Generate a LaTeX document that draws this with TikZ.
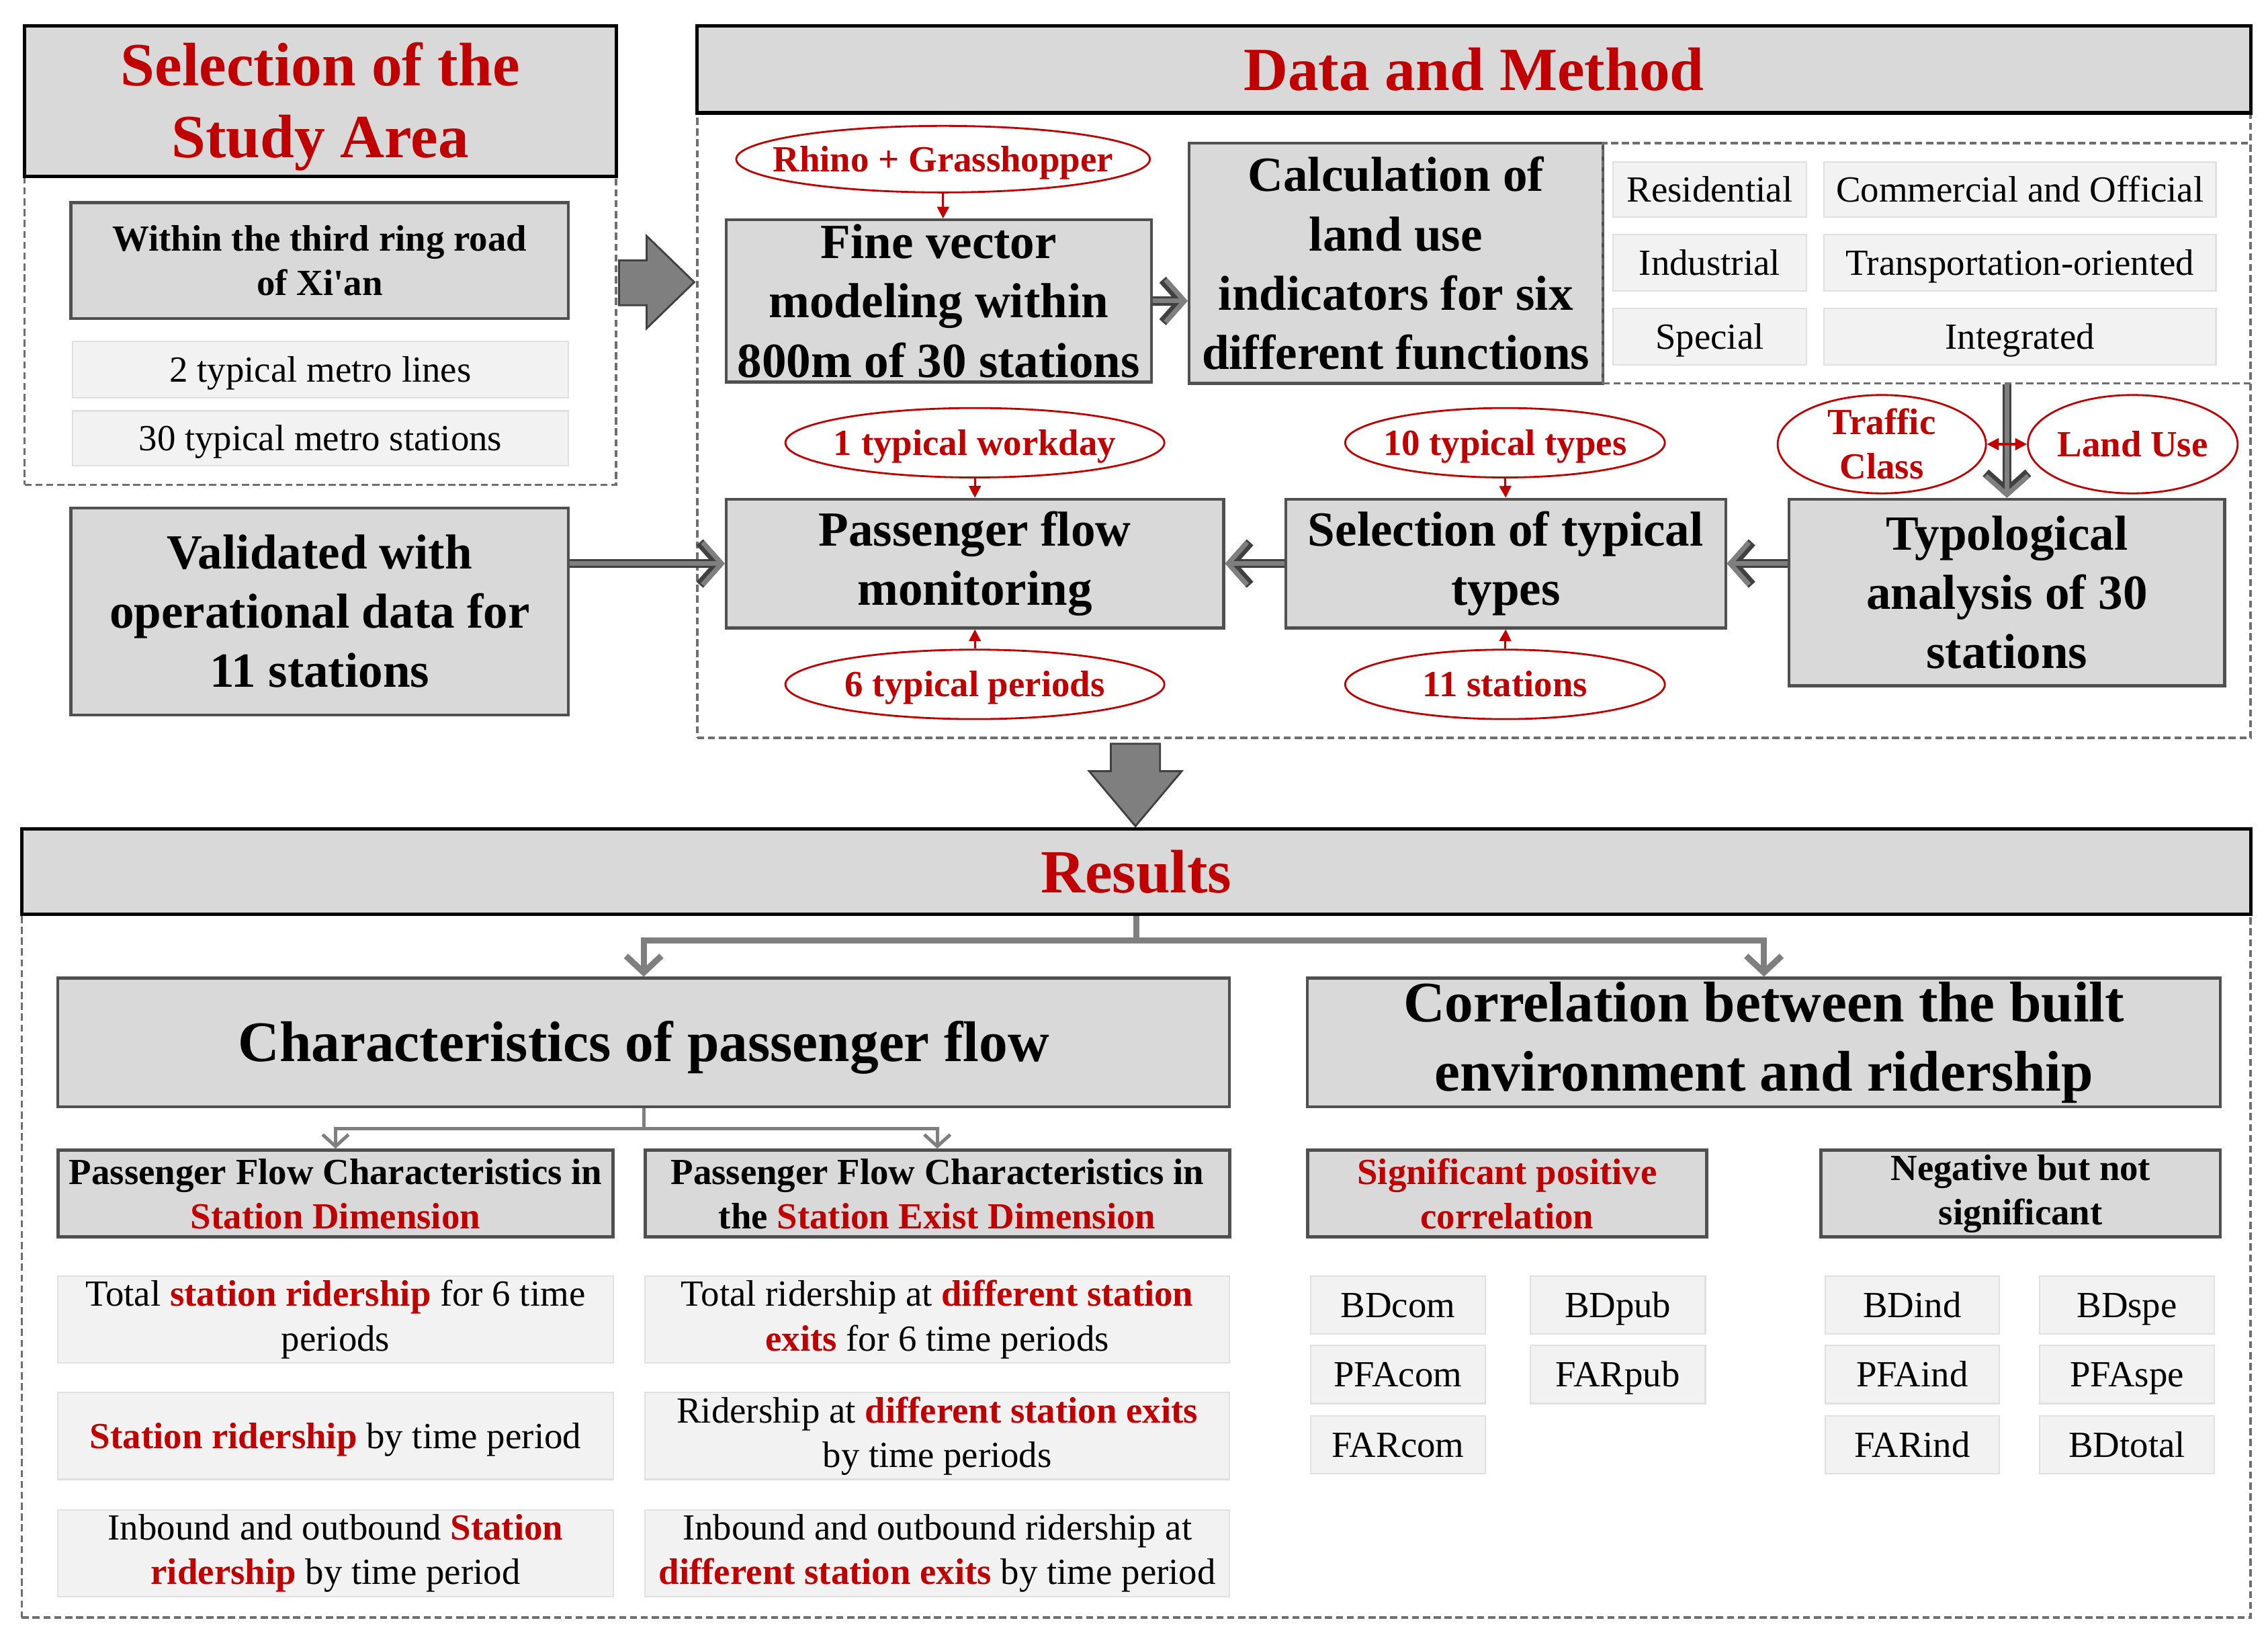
\documentclass[tikz,border=0pt]{standalone}
\usepackage{fontspec}
\setmainfont{Liberation Serif}[Ligatures=TeXOff]
\usetikzlibrary{arrows.meta,shapes.geometric}

\definecolor{redt}{RGB}{192,0,0}
\definecolor{boxgray}{RGB}{217,217,217}
\definecolor{lightbox}{RGB}{242,242,242}
\definecolor{liteline}{RGB}{224,224,224}
\definecolor{boxline}{RGB}{80,80,80}
\definecolor{darkline}{RGB}{64,64,64}
\definecolor{arrowgray}{RGB}{127,127,127}
\definecolor{framegray}{RGB}{110,110,110}

\newcommand\fTitle{\fontsize{26pt}{30.6pt}\selectfont\bfseries}
\newcommand\fMain{\fontsize{20.8pt}{25.1pt}\selectfont\bfseries}
\newcommand\fSub{\fontsize{24.3pt}{29.4pt}\selectfont\bfseries}
\newcommand\fSmall{\fontsize{15.6pt}{18.8pt}\selectfont}
\newcommand\wstrut{\rule[-0.216em]{0pt}{1.107em}}
\newcommand\redb[1]{{\color{redt}\bfseries #1}}
\newcommand\zw[1]{\makebox[0pt]{\wstrut#1}}
\newcommand\zz[2]{\makebox[0pt]{\smash{\raisebox{#1}{\begin{tabular}{@{}c@{}}#2\end{tabular}}}}}
\newcommand\hollowar[2]{%
  \draw[draw=darkline, line width=3.8pt, -{Straight Barb[length=8pt,width=18pt]}] #1 -- #2;
  \draw[draw=arrowgray, line width=2pt, -{Straight Barb[length=8pt,width=18pt]}] #1 -- #2;}

\tikzset{
  sz/.style 2 args={minimum width=#1*0.02153cm, minimum height=#2*0.02153cm},
  struts/.style={execute at begin node=\wstrut, execute at end node=\wstrut},
  mainbox/.style={draw=boxline, line width=1.2pt, fill=boxgray, align=center, inner sep=0pt, font=\fMain},
  subbox/.style={mainbox, line width=1.4pt, font=\fSmall\bfseries},
  topbox/.style={mainbox, font=\fSub, struts},
  litebox/.style={draw=liteline, line width=0.6pt, fill=lightbox, align=center, inner sep=0pt, font=\fSmall, struts},
  redell/.style={ellipse, draw=redt, line width=0.8pt, fill=white, text=redt, font=\fSmall\bfseries, inner sep=0pt},
  header/.style={draw=black, line width=1.5pt, fill=boxgray, text=redt, font=\fTitle, align=center, inner sep=0pt, struts},
  dframe/.style={draw=framegray, line width=1pt, dash pattern=on 3pt off 1.6pt, inner sep=0pt},
  redarrow/.style={draw=redt, line width=0.9pt, -{Triangle[length=5pt,width=5pt]}},
  redboth/.style={draw=redt, line width=0.9pt, {Triangle[length=5pt,width=5pt]}-{Triangle[length=5pt,width=5pt]}},
  treeln/.style={draw=arrowgray, line width=2.6pt},
  treetip/.style={treeln, -{Straight Barb[length=7pt,width=15pt]}},
  thintip/.style={draw=arrowgray, line width=1.4pt, -{Straight Barb[length=5pt,width=11pt]}},
  blockarrow/.style={fill=arrowgray, draw=darkline, line width=0.8pt},
}

\begin{document}
\begin{tikzpicture}[x=0.02153cm, y=-0.02153cm]
\useasboundingbox (0,0) rectangle (1568,1131);
\fill[white] (0,0) rectangle (1568,1131);

% ---------------- Panel 1: Selection of the Study Area
\node[dframe, sz={409}{317}] (frame1) at (221.5,176.5) {};
\node[header, sz={409}{104}] (head1) at (221.5,70) {\zz{0pt}{Selection of the\\Study Area}};
\node[mainbox, font=\fSmall\bfseries, sz={344}{80}] (ring) at (221,180) {Within the third ring road\\of Xi'an};
\node[litebox, sz={343}{39}] (lines2) at (221.5,255.5) {2 typical metro lines};
\node[litebox, sz={343}{38}] (st30) at (221.5,303) {30 typical metro stations};

% block arrow to Data and Method
\draw[blockarrow] (428,180) -- (447,180) -- (447,163) -- (480,195) -- (447,227) -- (447,211) -- (428,211) -- cycle;

% ---------------- Panel 2: Data and Method
\node[dframe, sz={1074}{492}] (frame2) at (1019,264) {};
\node[header, sz={1074}{60}] (head2) at (1019,48) {Data and Method};

\node[redell, sz={286}{46}] (rhino) at (652,110) {\zw{Rhino + Grasshopper}};
\node[mainbox, sz={294}{112}] (fine) at (649,208) {Fine vector\\modeling within\\800m of 30 stations};
\node[mainbox, sz={286}{166}] (calc) at (965,182) {Calculation of\\land use\\indicators for six\\different functions};

\node[dframe, sz={448}{166}] (ff) at (1332,182) {};
\node[litebox, sz={134}{38}] (res) at (1182,131) {Residential};
\node[litebox, sz={271}{38}] (comm) at (1396.5,131) {Commercial and Official};
\node[litebox, sz={134}{39}] (ind) at (1182,181.5) {Industrial};
\node[litebox, sz={271}{39}] (trans) at (1396.5,181.5) {Transportation-oriented};
\node[litebox, sz={134}{39}] (spec) at (1182,232.5) {Special};
\node[litebox, sz={271}{39}] (integ) at (1396.5,232.5) {Integrated};

\node[redell, sz={144}{68}] (traffic) at (1301,307) {\zz{-5pt}{Traffic\\Class}};
\node[redell, sz={145}{68}] (land) at (1474.5,307) {\zw{Land Use}};
\node[mainbox, sz={301}{129}] (typo) at (1387.5,409.5) {Typological\\analysis of 30\\stations};

\node[mainbox, sz={304}{89}] (sel) at (1041,389.5) {Selection of typical\\types};
\node[redell, sz={221}{48}] (types10) at (1040.5,306) {\zw{10 typical types}};
\node[redell, sz={221}{48}] (st11) at (1040.5,473) {\zw{11 stations}};

\node[mainbox, sz={344}{89}] (pass) at (674,389.5) {Passenger flow\\monitoring};
\node[redell, sz={262}{48}] (workday) at (674,306) {\zw{1 typical workday}};
\node[redell, sz={262}{48}] (periods) at (674,473) {\zw{6 typical periods}};

\node[mainbox, sz={344}{143}] (valid) at (221,422.5) {Validated with\\operational data for\\11 stations};

% connectors in panel 2
\draw[redarrow] (rhino.south) -- (rhino.south |- fine.north);
\draw[redarrow] (workday.south) -- (pass.north);
\draw[redarrow] (periods.north) -- (pass.south);
\draw[redarrow] (types10.south) -- (sel.north);
\draw[redarrow] (st11.north) -- (sel.south);
\hollowar{(fine.east)}{(fine.east -| calc.west)}
\hollowar{(typo.north |- ff.south)}{(typo.north)}
\draw[redboth] (traffic.east) -- (land.west);
\hollowar{(typo.west |- sel.east)}{(sel.east)}
\hollowar{(sel.west)}{(pass.east)}
\hollowar{(valid.east |- pass.west)}{(pass.west)}

% block arrow down to Results
\draw[blockarrow] (768,514) -- (802,514) -- (802,533) -- (817,533) -- (785,571) -- (753,533) -- (768,533) -- cycle;

% ---------------- Panel 3: Results
\node[dframe, sz={1541}{545}] (frame3) at (785.5,845.5) {};
\node[header, sz={1541}{59}] (head3) at (785.5,602.5) {Results};

\node[topbox, sz={810}{89}] (chars) at (445,720.5) {Characteristics of passenger flow};
\node[topbox, sz={631}{89}] (corr) at (1219.5,720.5) {Correlation between the built\\environment and ridership};

\coordinate (tb) at (785.5,650);
\draw[treeln] (head3.south) -- (tb);
\draw[treetip] (tb) -| (chars.north);
\draw[treetip] (tb) -| (corr.north);

\node[subbox, sz={384}{60}] (dim1) at (232,825) {Passenger Flow Characteristics in\\\textcolor{redt}{Station Dimension}};
\node[subbox, sz={404}{60}] (dim2) at (648,825) {Passenger Flow Characteristics in\\the \textcolor{redt}{Station Exist Dimension}};

\coordinate (tb2) at (445,780);
\draw[draw=arrowgray, line width=1.4pt] (chars.south) -- (tb2);
\draw[thintip] (tb2) -| (dim1.north);
\draw[thintip] (tb2) -| (dim2.north);

\node[litebox, sz={384}{60}] (l1) at (232,912) {Total \redb{station ridership} for 6 time\\periods};
\node[litebox, sz={384}{60}] (l2) at (232,992.5) {\redb{Station ridership} by time period};
\node[litebox, sz={384}{60}] (l3) at (232,1073.5) {Inbound and outbound \redb{Station}\\\redb{ridership} by time period};
\node[litebox, sz={404}{60}] (r1) at (648,912) {Total ridership at \redb{different station}\\\redb{exits} for 6 time periods};
\node[litebox, sz={404}{60}] (r2) at (648,992.5) {Ridership at \redb{different station exits}\\by time periods};
\node[litebox, sz={404}{60}] (r3) at (648,1073.5) {Inbound and outbound ridership at\\\redb{different station exits} by time period};

\node[subbox, text=redt, sz={276}{60}] (sig) at (1042,825) {Significant positive\\correlation};
\node[subbox, sz={276}{60}] (neg) at (1397,825) {Negative but not\\significant};

\node[litebox, sz={121}{40}] (bdcom) at (966.5,902) {BDcom};
\node[litebox, sz={121}{40}] (bdpub) at (1118.5,902) {BDpub};
\node[litebox, sz={121}{40}] (pfacom) at (966.5,950) {PFAcom};
\node[litebox, sz={121}{40}] (farpub) at (1118.5,950) {FARpub};
\node[litebox, sz={121}{40}] (farcom) at (966.5,998.5) {FARcom};

\node[litebox, sz={120}{40}] (bdind) at (1322,902) {BDind};
\node[litebox, sz={121}{40}] (bdspe) at (1470.5,902) {BDspe};
\node[litebox, sz={120}{40}] (pfaind) at (1322,950) {PFAind};
\node[litebox, sz={121}{40}] (pfaspe) at (1470.5,950) {PFAspe};
\node[litebox, sz={120}{40}] (farind) at (1322,998.5) {FARind};
\node[litebox, sz={121}{40}] (bdtotal) at (1470.5,998.5) {BDtotal};
\end{tikzpicture}
\end{document}
